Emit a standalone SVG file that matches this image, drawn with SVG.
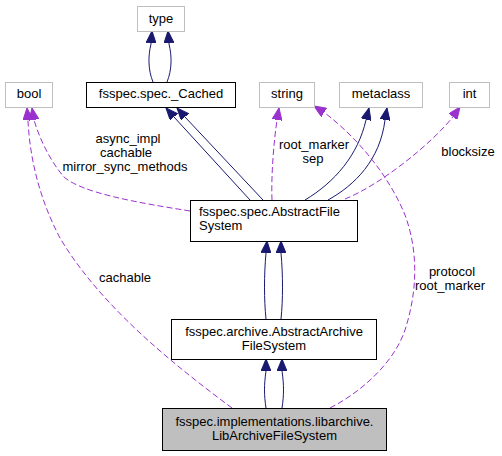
<svg xmlns="http://www.w3.org/2000/svg" width="502" height="456" viewBox="0 0 502 456">
<style>
text{font-family:"Liberation Sans",Arial,sans-serif;font-size:13px;fill:#000}
.c{text-anchor:middle}
.ext{fill:#fff;stroke:#bfbfbf;stroke-width:1}
.doc{fill:#fff;stroke:#000;stroke-width:1}
.cur{fill:#bfbfbf;stroke:#000;stroke-width:1}
.inh{fill:none;stroke:#191970;stroke-width:1}
.use{fill:none;stroke:#9a32cd;stroke-width:1;stroke-dasharray:6,3}
</style>
<defs>
<marker id="ab" viewBox="0 0 12 10" refX="12" refY="5" markerWidth="12" markerHeight="10" markerUnits="userSpaceOnUse" orient="auto">
<path d="M0,0 L12,5 L0,10 z" fill="#191970" stroke="#191970"/>
</marker>
<marker id="ap" viewBox="0 0 12 10" refX="12" refY="5" markerWidth="12" markerHeight="10" markerUnits="userSpaceOnUse" orient="auto">
<path d="M0,0 L12,5 L0,10 z" fill="#9a32cd" stroke="#9a32cd"/>
</marker>
</defs>
<rect width="502" height="456" fill="#fff"/>
<g id="edges">
<path class="inh" marker-end="url(#ab)" d="M153,82 C148,70 148,56 151,44 L152,31"/>
<path class="inh" marker-end="url(#ab)" d="M167,82 C172,70 172,56 169,44 L168,31"/>
<path class="inh" marker-end="url(#ab)" d="M250,200 L174,117 L166,108"/>
<path class="inh" marker-end="url(#ab)" d="M263,200 L185,117 L177,108"/>
<path class="inh" marker-end="url(#ab)" d="M305,200 C335,182 358,155 366,120 L369,108"/>
<path class="inh" marker-end="url(#ab)" d="M328,200 C355,185 380,160 385,120 L387,108"/>
<path class="inh" marker-end="url(#ab)" d="M266,319 C264,300 264,275 266,253 L267,241"/>
<path class="inh" marker-end="url(#ab)" d="M281,319 C283,300 283,275 281,253 L281,241"/>
<path class="inh" marker-end="url(#ab)" d="M266,408 C264,395 264,385 266,371 L266,359"/>
<path class="inh" marker-end="url(#ab)" d="M282,408 C284,395 284,385 282,371 L282,359"/>
<path class="use" marker-end="url(#ap)" d="M190,211 C140,203 80,193 63,176 C50,160 40,140 34,120 L32,108"/>
<path class="use" marker-end="url(#ap)" d="M232,408 C170,362 100,305 60,238 C40,200 30,160 28,121 L27,108"/>
<path class="use" marker-end="url(#ap)" d="M272,200 C271,175 274,140 277,120 L279,108"/>
<path class="use" marker-end="url(#ap)" d="M330,408 C365,390 395,360 405,330 C418,290 418,250 405,215 C390,178 360,140 325,113 L314,106"/>
<path class="use" marker-end="url(#ap)" d="M345,199 C380,185 430,145 452,118 L460,107"/>
<text class="c" x="128" y="143">async_impl</text>
<text class="c" x="126" y="157">cachable</text>
<text class="c" x="125" y="171">mirror_sync_methods</text>
<text class="c" x="125" y="282">cachable</text>
<text class="c" x="314" y="149">root_marker</text>
<text class="c" x="313" y="163">sep</text>
<text class="c" x="468" y="156">blocksize</text>
<text class="c" x="452" y="276">protocol</text>
<text class="c" x="450" y="290">root_marker</text>
</g>
<g id="type"><rect class="ext" x="137.5" y="6.5" width="47" height="25"/><text class="c" x="161" y="23">type</text></g>
<g id="cached"><rect class="doc" x="86.5" y="82.5" width="149" height="25"/><text class="c" x="161" y="98">fsspec.spec._Cached</text></g>
<g id="bool"><rect class="ext" x="5.5" y="82.5" width="47" height="25"/><text class="c" x="29" y="98">bool</text></g>
<g id="string"><rect class="ext" x="259.5" y="82.5" width="55" height="25"/><text class="c" x="287" y="98">string</text></g>
<g id="metaclass"><rect class="ext" x="339.5" y="82.5" width="83" height="25"/><text class="c" x="381" y="98">metaclass</text></g>
<g id="int"><rect class="ext" x="449.5" y="82.5" width="40" height="25"/><text class="c" x="469.5" y="98">int</text></g>
<g id="abstractfs"><rect class="doc" x="190.5" y="200.5" width="167" height="41"/><text x="199" y="216">fsspec.spec.AbstractFile</text><text x="199" y="230">System</text></g>
<g id="abstractarchive"><rect class="doc" x="171.5" y="319.5" width="205" height="40"/><text class="c" x="274" y="336">fsspec.archive.AbstractArchive</text><text class="c" x="274" y="350">FileSystem</text></g>
<g id="libarchive"><rect class="cur" x="162.5" y="408.5" width="224" height="42"/><text class="c" x="274.5" y="426">fsspec.implementations.libarchive.</text><text class="c" x="274.5" y="440">LibArchiveFileSystem</text></g>
</svg>
